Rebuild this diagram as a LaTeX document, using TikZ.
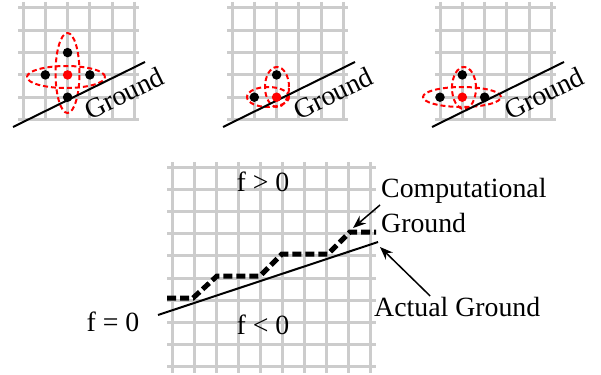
\documentclass[tikz,border=0pt]{standalone}
\usepackage{fontspec}
\setmainfont{Liberation Serif}
\usetikzlibrary{arrows.meta}

\begin{document}
\begin{tikzpicture}[
    x=1pt, y=-1pt,
    font=\fontsize{27.8}{35}\selectfont,
    gridline/.style = {draw=black!20, line width=3pt},
    ground/.style = {draw, line width=2pt},
    dot/.style = {circle, fill, inner sep=0pt, minimum size=9.5pt},
    reddot/.style = {dot, fill=red},
    stencil/.style = {draw=red, line width=2pt, dash pattern=on 5pt off 3pt},
    lbl/.style = {inner sep=1pt},
    pointer/.style = {draw, line width=1.5pt, -{Stealth[length=13pt, width=10pt]}}
  ]
  \useasboundingbox (0,0) rectangle (601,374);

  % three small grids on top (spacing 22.3)
  \foreach \ox in {23, 232, 440} {
    \begin{scope}[shift={(\ox,8)}]
      \foreach \i in {0,...,5} {
        \draw[gridline] (\i*22.3,-6) -- (\i*22.3,113);
        \draw[gridline] (-5,\i*22.3) -- (116,\i*22.3);
      }
    \end{scope}
  }

  % left: full stencil
  \draw[stencil] (66,77) ellipse [x radius=39pt, y radius=11pt];
  \draw[stencil] (67.5,73) ellipse [x radius=12pt, y radius=40pt];
  \draw[ground] (13,127) -- (145,62);
  \node[reddot] (c1) at (67.6,74.9) {};
  \node[dot] (w1) at (45.3,74.9) {};
  \node[dot] (e1) at (89.9,74.9) {};
  \node[dot] (n1) at (67.6,52.6) {};
  \node[dot] (s1) at (67.6,97.2) {};
  \node[lbl, rotate=26] (gr1) at (124,93) {Ground};

  % middle: two neighbours left
  \draw[stencil] (268,97) ellipse [x radius=21pt, y radius=10pt];
  \draw[stencil] (277,87) ellipse [x radius=12pt, y radius=20pt];
  \draw[ground] (223,127) -- (355,62);
  \node[reddot] (c2) at (276.6,97.2) {};
  \node[dot] (w2) at (254.3,97.2) {};
  \node[dot] (n2) at (276.6,74.9) {};
  \node[lbl, rotate=26] (gr2) at (333,93) {Ground};

  % right: three neighbours left
  \draw[stencil] (462,97) ellipse [x radius=39pt, y radius=10pt];
  \draw[stencil] (464,88) ellipse [x radius=12pt, y radius=21pt];
  \draw[ground] (432,127) -- (564,62);
  \node[reddot] (c3) at (462.3,97.2) {};
  \node[dot] (w3) at (440,97.2) {};
  \node[dot] (e3) at (484.6,97.2) {};
  \node[dot] (n3) at (462.3,74.9) {};
  \node[lbl, rotate=26] (gr3) at (544,93) {Ground};

  % big grid below
  \begin{scope}[shift={(172,167)}]
    \foreach \i in {0,...,9} {
      \draw[gridline] (\i*22.1,-5) -- (\i*22.1,206);
      \draw[gridline] (-5,\i*22.2) -- (204,\i*22.2);
    }
  \end{scope}

  % actual ground and the stepped computational one
  \draw[ground] (158,315) -- (378,242);
  \draw[line width=5pt, dash pattern=on 9pt off 4pt]
    (167,298) -- (193,298) -- (217,276) -- (260,276) -- (282,254)
    -- (328,254) -- (350,232) -- (376,232);

  \node[lbl] (fpos)  at (263,182) {f > 0};
  \node[lbl] (fneg)  at (263,325) {f < 0};
  \node[lbl] (fzero) at (113,322) {f = 0};

  \node[lbl, align=left, anchor=west] (comp) at (380,205) {Computational\\Ground};
  \node[lbl, anchor=west] (actual) at (373,307) {Actual Ground};

  \coordinate (cgtip) at (353,228);
  \coordinate (agtip) at (380,247);
  \draw[pointer] (comp.west) -- (cgtip);
  \draw[pointer] ([xshift=-27pt]actual.north) -- (agtip);
\end{tikzpicture}
\end{document}
